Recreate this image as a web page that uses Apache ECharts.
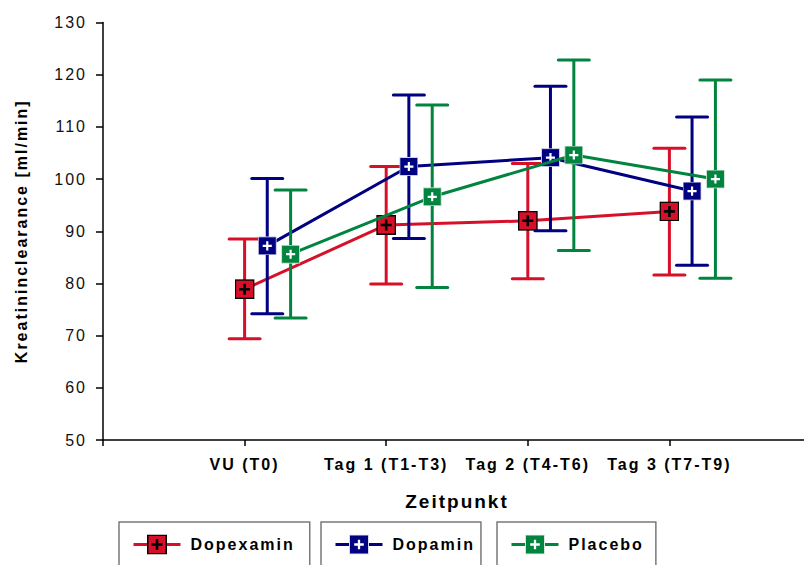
<!DOCTYPE html>
<html>
<head>
<meta charset="utf-8">
<script src="https://cdn.jsdelivr.net/npm/echarts@6/dist/echarts.min.js"></script>
<style>
  html, body { margin: 0; padding: 0; background: #fff; }
  #chart { width: 804px; height: 565px; }
  #chart text { letter-spacing: 2px; }
</style>
</head>
<body>
<div id="chart"></div>
<script>
// Zeitpunkte (Kategorien der x-Achse)
const categories = ['VU (T0)', 'Tag 1 (T1-T3)', 'Tag 2 (T4-T6)', 'Tag 3 (T7-T9)'];

// Kreatininclearance [ml/min]: Mittelwert sowie untere/obere Fehlergrenze
const dopexaminMean = [78.9, 91.2, 92.0, 93.8];
const dopexaminLow  = [69.4, 79.9, 80.9, 81.6];
const dopexaminHigh = [88.5, 102.4, 103.0, 105.9];

const dopaminMean = [87.2, 102.4, 104.1, 97.7];
const dopaminLow  = [74.2, 88.6, 90.1, 83.5];
const dopaminHigh = [100.1, 116.1, 117.8, 111.9];

const placeboMean = [85.6, 96.6, 104.6, 100.0];
const placeboLow  = [73.4, 79.2, 86.3, 81.0];
const placeboHigh = [97.9, 114.2, 122.8, 119.0];

const yTicks = { min: 50, max: 130, step: 10 };

// Darstellung
const FONT = "'Liberation Sans', Arial, sans-serif";
const groups = [
  { name: 'Dopexamin', mean: dopexaminMean, low: dopexaminLow, high: dopexaminHigh,
    color: '#d7102a', edge: '#000000', cross: '#000000', size: 20, shift: 0 },
  { name: 'Dopamin', mean: dopaminMean, low: dopaminLow, high: dopaminHigh,
    color: '#000080', edge: '#d8d8e8', cross: '#ffffff', size: 19, shift: 0.16 },
  { name: 'Placebo', mean: placeboMean, low: placeboLow, high: placeboHigh,
    color: '#00843f', edge: '#d8e8d8', cross: '#ffffff', size: 19, shift: 0.325 }
];

// Quadratisches Symbol mit Kreuz als SVG-Bild
function markerSymbol(fill, edge, cross, heavy) {
  const sw = heavy ? 1.5 : 1;
  const a = heavy ? 4.5 : 5.2, b = 20 - a;
  const cw = heavy ? 2.6 : 2.3;
  const svg = "<svg xmlns='http://www.w3.org/2000/svg' width='20' height='20' viewBox='0 0 20 20'>" +
    "<rect x='" + sw / 2 + "' y='" + sw / 2 + "' width='" + (20 - sw) + "' height='" + (20 - sw) +
    "' fill='" + fill + "' stroke='" + edge + "' stroke-width='" + sw + "'/>" +
    "<path d='M10 " + a + "V" + b + "M" + a + " 10H" + b + "' stroke='" + cross +
    "' stroke-width='" + cw + "' fill='none'/></svg>";
  return 'image://data:image/svg+xml;charset=utf-8,' + encodeURIComponent(svg);
}

// Fehlerbalken: senkrechte Linie mit Querstrichen oben und unten
function errorBar(color) {
  return function (params, api) {
    const x = api.value(0);
    const lo = api.coord([x, api.value(1)]);
    const hi = api.coord([x, api.value(2)]);
    const half = 15.5;
    const style = { stroke: color, lineWidth: 3, lineCap: 'round', fill: null };
    return {
      type: 'group',
      children: [
        { type: 'line', shape: { x1: hi[0], y1: hi[1], x2: lo[0], y2: lo[1] }, style: { stroke: color, lineWidth: 3, fill: null } },
        { type: 'line', shape: { x1: hi[0] - half, y1: hi[1], x2: hi[0] + half, y2: hi[1] }, style: style },
        { type: 'line', shape: { x1: lo[0] - half, y1: lo[1], x2: lo[0] + half, y2: lo[1] }, style: style }
      ]
    };
  };
}

const series = [];
groups.forEach(function (g, k) {
  const pos = categories.map(function (c, i) { return i + 1 + g.shift; });
  series.push({
    name: g.name + ' (Streuung)',
    type: 'custom',
    z: 2 * k + 1,
    silent: true,
    renderItem: errorBar(g.color),
    encode: { x: 0, y: [1, 2] },
    data: pos.map(function (x, i) { return [x, g.low[i], g.high[i]]; })
  });
  series.push({
    name: g.name,
    type: 'line',
    z: 2 * k + 2,
    data: pos.map(function (x, i) { return [x, g.mean[i]]; }),
    symbol: markerSymbol(g.color, g.edge, g.cross, k === 0),
    symbolSize: g.size,
    showAllSymbol: true,
    lineStyle: { color: g.color, width: 3 },
    itemStyle: { color: g.color },
    emphasis: { disabled: true }
  });
});

// Drei einzeln umrandete Legendenfelder
const legendBoxes = [
  { name: 'Dopexamin', left: 119, padRight: 33 },
  { name: 'Dopamin', left: 321, padRight: 20 },
  { name: 'Placebo', left: 497, padRight: 26 }
];
const legends = legendBoxes.map(function (b) {
  return {
    data: [b.name],
    left: b.left,
    top: 522,
    orient: 'horizontal',
    padding: [12.5, b.padRight, 40, 13],
    itemWidth: 47,
    itemHeight: 25,
    borderColor: '#7a7a7a',
    borderWidth: 1.5,
    backgroundColor: '#fff',
    lineStyle: { width: 3 },
    selectedMode: false,
    textStyle: {
      fontFamily: FONT, fontSize: 16, fontWeight: 'bold', color: '#000',
      padding: [0, 0, 0, 5]
    }
  };
});

const chart = echarts.init(document.getElementById('chart'), null, { renderer: 'svg' });
chart.setOption({
  animation: false,
  backgroundColor: '#fff',
  textStyle: { fontFamily: FONT },
  grid: { left: 103, right: -7, top: 22.5, bottom: 125, outerBoundsMode: 'none', containLabel: false },
  legend: legends,
  xAxis: {
    type: 'value',
    min: 0,
    max: categories.length + 1,
    interval: 1,
    name: 'Zeitpunkt',
    nameLocation: 'middle',
    nameGap: 52,
    nameTextStyle: { fontFamily: FONT, fontSize: 19, fontWeight: 'bold', color: '#000' },
    axisLine: { show: true, lineStyle: { color: '#000', width: 1.5 } },
    axisTick: { show: true, length: 6, lineStyle: { color: '#000', width: 1.5 } },
    axisLabel: {
      margin: 16, fontFamily: FONT, fontSize: 16, fontWeight: 'bold', color: '#000',
      showMinLabel: true, showMaxLabel: true,
      formatter: function (v) { return categories[Math.round(v) - 1] || ''; }
    },
    splitLine: { show: false }
  },
  yAxis: {
    type: 'value',
    min: yTicks.min,
    max: yTicks.max,
    interval: yTicks.step,
    name: 'Kreatininclearance [ml/min]',
    nameLocation: 'middle',
    nameGap: 74,
    nameTextStyle: { fontFamily: FONT, fontSize: 16, fontWeight: 'bold', color: '#000' },
    axisLine: { show: true, lineStyle: { color: '#000', width: 1.5 } },
    axisTick: { show: true, length: 7, lineStyle: { color: '#000', width: 1.5 } },
    axisLabel: { margin: 16, fontFamily: FONT, fontSize: 16, color: '#111' },
    splitLine: { show: false }
  },
  series: series
});
</script>
</body>
</html>
